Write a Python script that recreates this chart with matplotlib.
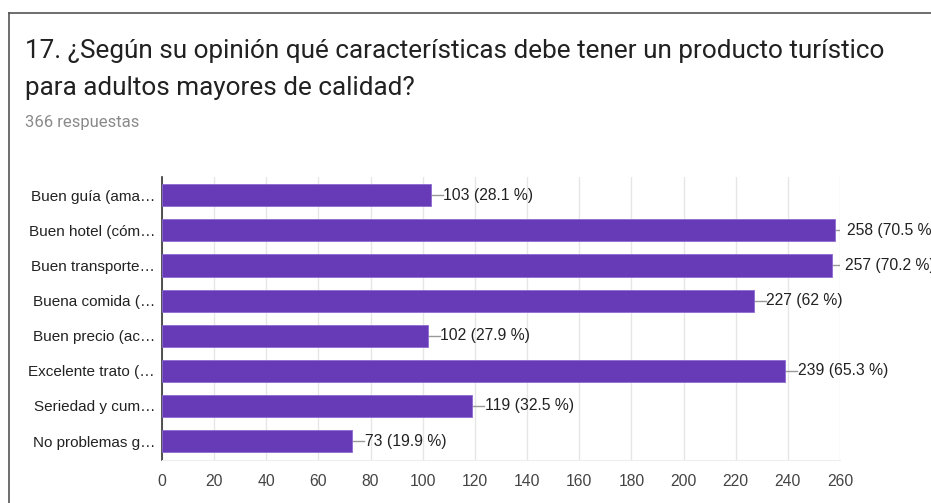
import numpy as np
import matplotlib
matplotlib.use("Agg")
import matplotlib.pyplot as plt
from matplotlib.lines import Line2D

labels = ["Buen guía (ama…", "Buen hotel (cóm…", "Buen transporte…", "Buena comida (…",
          "Buen precio (ac…", "Excelente trato (…", "Seriedad y cum…", "No problemas g…"]
counts = [103, 258, 257, 227, 102, 239, 119, 73]
pcts = ["28.1", "70.5", "70.2", "62", "27.9", "65.3", "32.5", "19.9"]
xticks = [0, 20, 40, 60, 80, 100, 120, 140, 160, 180, 200, 220, 240, 260]

W, H = 931, 503
fig = plt.figure(figsize=(W / 100, H / 100), dpi=100)
fig.set_facecolor("white")

# card border (top and left)
fig.add_artist(Line2D([8.5 / W, 1], [1 - 12.5 / H, 1 - 12.5 / H], color="#555555", lw=1.2))
fig.add_artist(Line2D([8.5 / W, 8.5 / W], [0, 1 - 12.5 / H], color="#555555", lw=1.2))

fig.text(25 / W, 1 - 51 / H, "17. ¿Según su opinión qué características debe tener un producto turístico",
         fontsize=18.8, family="Roboto", color="#212121", va="center", ha="left")
fig.text(25 / W, 1 - 88 / H, "para adultos mayores de calidad?",
         fontsize=18.8, family="Roboto", color="#212121", va="center", ha="left")
fig.text(25 / W, 1 - 123 / H, "366 respuestas", fontsize=12, family="Roboto",
         color="#8a8a8a", va="center", ha="left")

ax = fig.add_axes([162 / W, 1 - 460 / H, (840 - 162) / W, (460 - 177) / H])
y = np.arange(len(counts))
ax.barh(y, counts, height=0.63, color="#673AB7", edgecolor="#8e6ad0", linewidth=0.6, zorder=3)

px = 260 / (840 - 162)  # data units per pixel
for yi, c, p in zip(y, counts, pcts):
    ax.plot([c, c + 12 * px], [yi, yi], color="#999999", lw=1, zorder=2)
    ax.text(c + 12.5 * px, yi, f"{c} ({p} %)", va="center", ha="left", fontsize=11.3,
            family="Liberation Sans", color="#222222", clip_on=False)

ax.set_xlim(0, 260)
ax.set_ylim(len(counts) - 0.46, -0.52)
ax.set_xticks(xticks)
ax.set_yticks(y)
ax.set_yticklabels(labels, fontsize=11, family="Liberation Sans", color="#222222")
for t in ax.get_xticklabels():
    t.set_fontsize(11.3)
    t.set_family("Liberation Sans")
    t.set_color("#444444")
ax.tick_params(axis="both", length=0)
ax.tick_params(axis="x", pad=10)
ax.tick_params(axis="y", pad=5)
ax.grid(axis="x", color="#e6e6e6", lw=1, zorder=0)
for s in ["top", "right"]:
    ax.spines[s].set_visible(False)
ax.spines["bottom"].set_color("#eeeeee")
ax.spines["left"].set_color("#333333")
ax.spines["left"].set_linewidth(1.2)

fig.savefig("out.png", dpi=100)
